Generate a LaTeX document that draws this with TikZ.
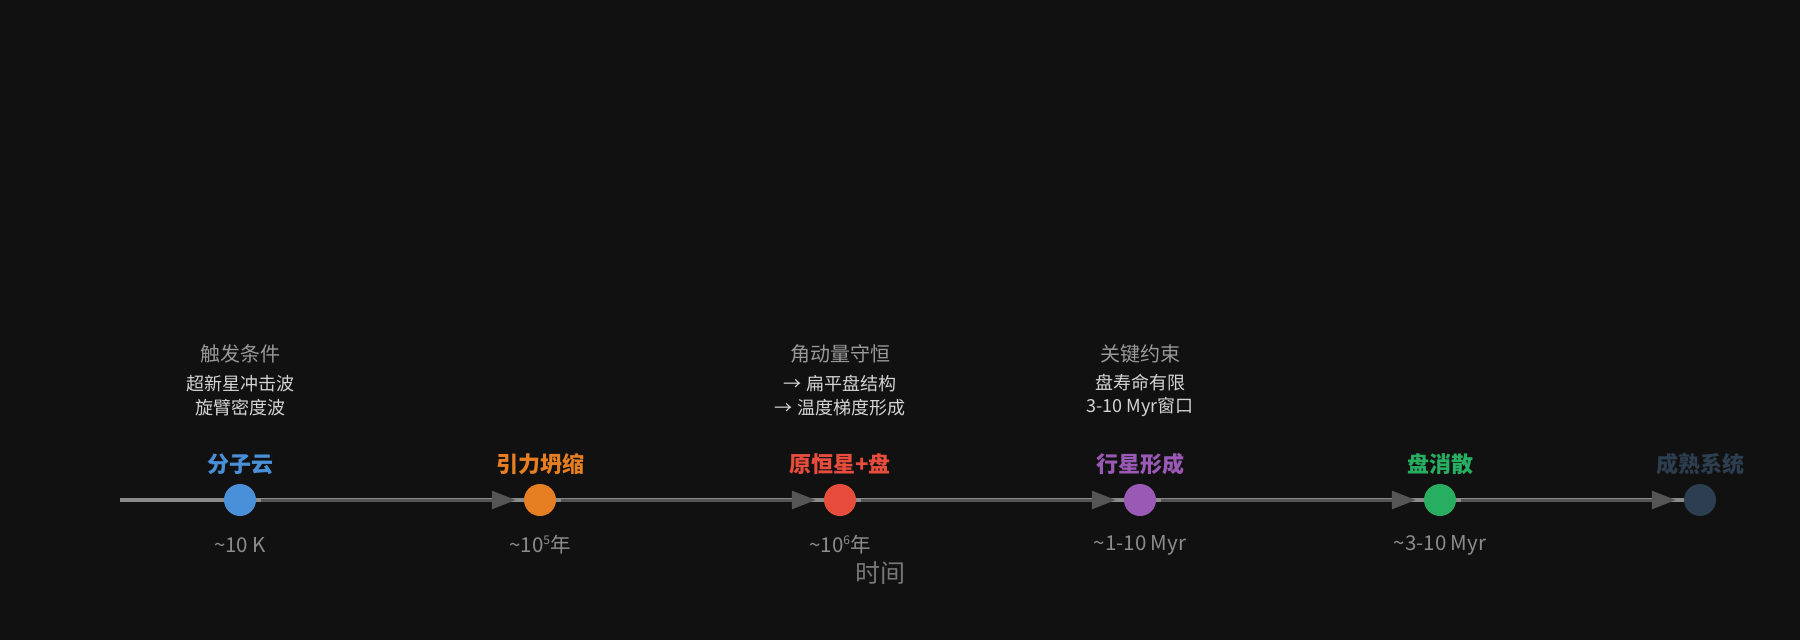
\documentclass[tikz,border=0pt]{standalone}
\usepackage{fontspec}
\setmainfont{Noto Sans CJK SC}
\usetikzlibrary{arrows.meta}
\definecolor{bgc}{HTML}{111111}
\definecolor{basec}{HTML}{8A8A8A}
\definecolor{arrc}{HTML}{555555}
\definecolor{cblue}{HTML}{4A90D9}
\definecolor{corange}{HTML}{E67E22}
\definecolor{cred}{HTML}{E74C3C}
\definecolor{cpurple}{HTML}{9B59B6}
\definecolor{cgreen}{HTML}{27AE60}
\definecolor{cdark}{HTML}{2C3E50}
\definecolor{anntitle}{HTML}{999999}
\definecolor{annline}{HTML}{D4D4D4}
\definecolor{timec}{HTML}{8C8C8C}
\definecolor{axisc}{HTML}{777777}
\pgfdeclarelayer{bglayer}
\pgfdeclarelayer{linelayer}
\pgfsetlayers{bglayer,linelayer,main}
\newcommand{\supnum}[1]{\raisebox{0.42em}{\fontsize{12}{12}\selectfont #1}}
\tikzset{
  stage/.style={circle, minimum size=32pt, inner sep=0pt, draw=none},
  stitle/.style={font=\fontsize{22}{26}\selectfont\bfseries, inner sep=0pt},
  tlabel/.style={font=\fontsize{20.5}{24}\selectfont, text=timec, inner sep=0pt},
  atitle/.style={font=\fontsize{20}{24}\selectfont, text=anntitle, inner sep=0pt},
  aline/.style={font=\fontsize{18}{23.5}\selectfont, text=annline, inner sep=0pt, align=center},
  baseax/.style={draw=basec, line width=4pt},
  arrowline/.style={draw=arrc, line width=3pt, shorten <=5pt, shorten >=8pt,
    -{Triangle[length=24pt, width=18pt]}},
}
\begin{document}
\begin{tikzpicture}[x=1pt, y=-1pt]
\begin{pgfonlayer}{bglayer}
\fill[bgc] (0,0) rectangle (1800,640);
\end{pgfonlayer}
\useasboundingbox (0,0) rectangle (1800,640);

% stages
\node[stage, fill=cblue] (c1) at (240,500) {};
\node[stage, fill=corange] (c2) at (540,500) {};
\node[stage, fill=cred] (c3) at (840,500) {};
\node[stage, fill=cpurple] (c4) at (1140,500) {};
\node[stage, fill=cgreen] (c5) at (1440,500) {};
\node[stage, fill=cdark] (c6) at (1700,500) {};

% titles
\node[stitle, text=cblue] (t1) at (240,464) {分子云};
\node[stitle, text=corange] (t2) at (540,464) {引力坍缩};
\node[stitle, text=cred] (t3) at (840,464) {原恒星+盘};
\node[stitle, text=cpurple] (t4) at (1140,464) {行星形成};
\node[stitle, text=cgreen] (t5) at (1440,464) {盘消散};
\node[stitle, text=cdark] (t6) at (1700,464) {成熟系统};

% time labels
\node[tlabel] (l1) at (240,545) {\textasciitilde 10 K};
\node[tlabel] (l2) at (540,545) {\textasciitilde 10\supnum{5}年};
\node[tlabel] (l3) at (840,545) {\textasciitilde 10\supnum{6}年};
\node[tlabel] (l4) at (1140,545) {\textasciitilde 1-10 Myr};
\node[tlabel] (l5) at (1440,545) {\textasciitilde 3-10 Myr};

% annotations
\node[atitle] (a1) at (240,354) {触发条件};
\node[aline] (b1) at (240,395.5) {超新星冲击波\\旋臂密度波};
\node[atitle] (a3) at (840,354) {角动量守恒};
\node[aline] (b3) at (840,395.5) {→ 扁平盘结构\\→ 温度梯度形成};
\node[atitle] (a4) at (1140,354) {关键约束};
\node[aline] (b4) at (1140,395.5) {盘寿命有限\\3-10 Myr窗口};

% axis label
\node[font=\fontsize{25}{30}\selectfont, text=axisc, inner sep=0pt] (ax) at (880,573) {时间};

% lines
\coordinate (start) at (120,500);
\begin{pgfonlayer}{linelayer}
\draw[baseax] (start) -- (c6.center);
\draw[arrowline] (c1) -- (c2);
\draw[arrowline] (c2) -- (c3);
\draw[arrowline] (c3) -- (c4);
\draw[arrowline] (c4) -- (c5);
\draw[arrowline] (c5) -- (c6);
\end{pgfonlayer}
\end{tikzpicture}
\end{document}
